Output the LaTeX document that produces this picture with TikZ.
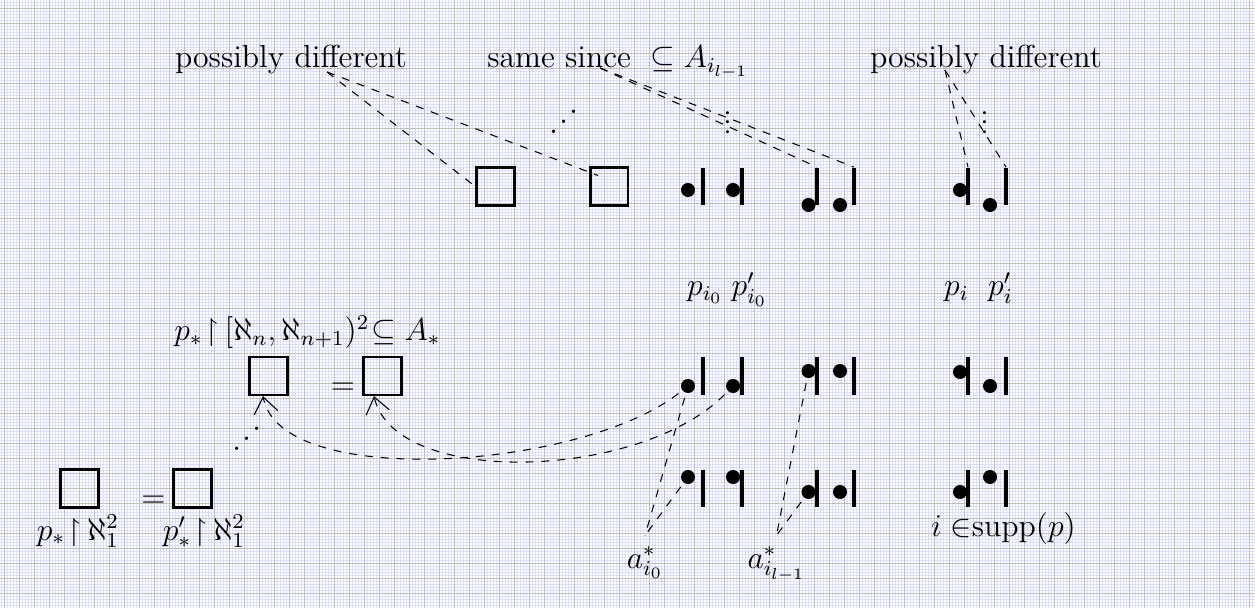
\documentclass[12pt,tikz,border=0pt]{standalone}
\usepackage{amssymb}
\usepackage{graphicx}
\usepackage{tikz}
\usetikzlibrary{arrows.meta,positioning,calc}

\newcommand{\rstr}{\mathrel{\makebox[1.6pt]{$\upharpoonright$\kern1.5pt}}}

\begin{document}
\begin{tikzpicture}[x=0.013271cm, y=-0.013271cm,
    sq/.style={draw, line width=1pt, minimum size=0.5cm, inner sep=0},
    stick/.style={fill, minimum width=1.2pt, minimum height=0.5cm, inner sep=0},
    blob/.style={circle, fill, minimum size=0.186cm, inner sep=0, outer sep=2pt},
    lbl/.style={anchor=base},
    dots/.style={inner sep=0},
    link/.style={dashed, line width=0.4pt},
    pull/.style={link, -{Straight Barb[length=6pt, width=9pt]}}]
    \useasboundingbox (0,0) rectangle (1255,608);
    \begin{scope}
        \clip (0,0) rectangle (1255,608);
        \fill[white] (0,0) rectangle (1255,608);
        \begin{scope}[shift={(4.5,8.5)}]
            \draw[blue!13, line width=0.3776pt, step=0.039813cm] (-0.2cm,0.2cm) grid (16.8cm,-8.2cm);
            \draw[gray!50, line width=0.3776pt, step=0.199065cm] (-0.2cm,0.2cm) grid (16.8cm,-8.2cm);
        \end{scope}
    \end{scope}

    \node (pdl) [lbl] at (291,68) {possibly different};
    \node (same) [lbl] at (618,68) {same since ${}\subseteq A_{i_{l-1}}$};
    \node (pdr) [lbl] at (986,68) {possibly different};
    \coordinate (pdlc) at ([shift={(36,4)}]pdl.base);
    \coordinate (samec) at ([shift={(-18,0)}]same.base);
    \coordinate (pdrc) at ([shift={(-41,2)}]pdr.base);

    \node (sq1) [sq] at (495.5,186.5) {};
    \node (sq2) [sq] at (609,186.5) {};
    \node (id1) [dots] at (565,122.5) {\rotatebox{45}{$\cdots$}};
    \node (vd1) [dots] at (728,122.5) {\rotatebox{90}{.\kern0.35pt.\kern0.35pt.}};
    \node (vd2) [dots] at (985,122.5) {\rotatebox{90}{.\kern0.35pt.\kern0.35pt.}};

    \node (t1s) [stick] at (703,186.5) {};
    \node (t1d) [blob] at (688,190) {};
    \node (t2s) [stick] at (742,186.5) {};
    \node (t2d) [blob] at (733,190) {};
    \node (t3s) [stick] at (817,186.5) {};
    \node (t3d) [blob] at (808.5,205) {};
    \node (t4s) [stick] at (854,186.5) {};
    \node (t4d) [blob] at (840,205) {};
    \node (t5s) [stick] at (968,186.5) {};
    \node (t5d) [blob] at (960,190) {};
    \node (t6s) [stick] at (1006,186.5) {};
    \node (t6d) [blob] at (990,205) {};

    \node (pi0) [lbl] at (705,296) {$p_{i_0}$};
    \node (qi0) [lbl] at (749.5,296) {$p'_{i_0}$};
    \node (pi) [lbl] at (956.5,296) {$p_i$};
    \node (qi) [lbl] at (1000.5,296) {$p'_i$};

    \node (m1s) [stick] at (703,376) {};
    \node (m1d) [blob] at (688,386) {};
    \node (m2s) [stick] at (742,376) {};
    \node (m2d) [blob] at (733,386) {};
    \node (m3s) [stick] at (817,376) {};
    \node (m3d) [blob] at (808.5,371) {};
    \node (m4s) [stick] at (854,376) {};
    \node (m4d) [blob] at (840,371) {};
    \node (m5s) [stick] at (968,376) {};
    \node (m5d) [blob] at (960,372) {};
    \node (m6s) [stick] at (1006,376) {};
    \node (m6d) [blob] at (990,386) {};

    \node (b1s) [stick] at (703,488.5) {};
    \node (b1d) [blob] at (688,477) {};
    \node (b2s) [stick] at (742,488.5) {};
    \node (b2d) [blob] at (733,477) {};
    \node (b3s) [stick] at (817,488.5) {};
    \node (b3d) [blob] at (808.5,492) {};
    \node (b4s) [stick] at (854,488.5) {};
    \node (b4d) [blob] at (840,492) {};
    \node (b5s) [stick] at (968,488.5) {};
    \node (b5d) [blob] at (960,492) {};
    \node (b6s) [stick] at (1006,488.5) {};
    \node (b6d) [blob] at (990,477) {};

    \node (ai0) [lbl] at (645,568) {$a^*_{i_0}$};
    \node (ail) [lbl] at (776.5,568) {$a^*_{i_{l-1}}$};
    \node (supp) [lbl] at (1003.5,537) {$i\in$supp$(p)$};

    \node (pa) [lbl] at (307.5,341) {$p_*\rstr[\aleph_n,\aleph_{n+1})^2\mkern-4mu\subseteq A_*$};
    \node (sqA) [sq] at (268.5,376) {};
    \node (eqa) [lbl] at (343,394.5) {$=$};
    \node (sqB) [sq] at (382.5,376) {};
    \node (id2) [dots] at (248,439.5) {\rotatebox{45}{$\cdots$}};

    \node (sqC) [sq] at (79.5,488.5) {};
    \node (eqc) [lbl] at (153.5,507.5) {$=$};
    \node (sqD) [sq] at (192.5,488.5) {};
    \node (pc) [lbl] at (78,540) {$p_*\rstr\aleph_1^2$};
    \node (pd) [lbl] at (204,540) {$p'_*\rstr\aleph_1^2$};

    \draw[link] (pdlc) -- (sq1.west);
    \draw[link] (pdlc) -- ([shift={(-11,-11)}]sq2.center);
    \draw[link] (samec) -- (t3s.north);
    \draw[link] (samec) -- (t4s.north);
    \draw[link] (pdrc) -- (t5s.north);
    \draw[link] (pdrc) -- (t6s.north);

    \draw[pull] (m1d) .. controls (580,470) and (280,490) .. ([shift={(-5.5,0)}]sqA.south);
    \draw[pull] (m2d) .. controls (640,480) and (395,488) .. ([shift={(-8.5,0)}]sqB.south);
    \draw[link] (m1d) -- (ai0.north);
    \draw[link] (b1d) -- (ai0.north);
    \draw[link] (m3d) -- (ail.north);
    \draw[link] (b3d) -- (ail.north);
\end{tikzpicture}
\end{document}
